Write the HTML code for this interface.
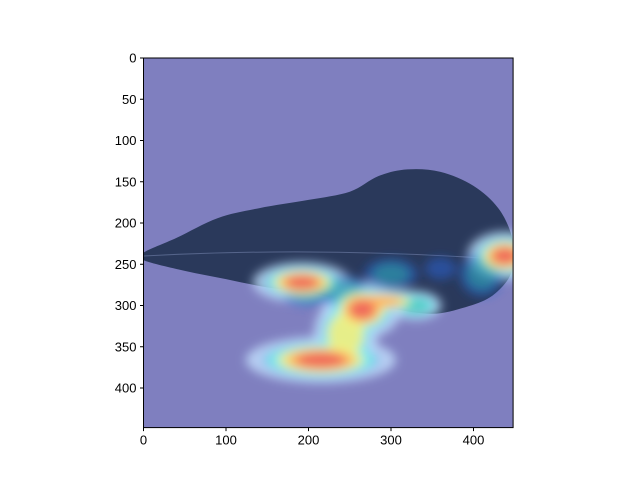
<!DOCTYPE html>
<html><head><meta charset="utf-8"><style>
body{margin:0;background:#fff;width:640px;height:480px;overflow:hidden}
svg text{font-family:"Liberation Sans","DejaVu Sans",sans-serif;font-size:13px;fill:#000}
</style></head><body>
<svg id="chart" width="640" height="480" viewBox="0 0 640 480" xmlns="http://www.w3.org/2000/svg">
<defs>
<filter id="blur" x="-50%" y="-50%" width="200%" height="200%"><feGaussianBlur stdDeviation="5"/></filter>
<clipPath id="clip"><rect x="143.5" y="58" width="369.6" height="369.6"/></clipPath>
</defs>
<rect x="143.5" y="58" width="369.6" height="369.6" fill="#7f7fbf"/>
<g id="img" clip-path="url(#clip)"></g>
<rect x="143.5" y="58" width="369.6" height="369.6" fill="none" stroke="#000" stroke-width="1"/>
<g id="axes"></g>
</svg>
<script>
const xTicks=[0,100,200,300,400];
const yTicks=[0,50,100,150,200,250,300,350,400];
const imgSize=448;
// leaf outline (data coords)
const leafX=[0,40,90,140,200,250,285,320,360,400,430,446,448,442,420,390,350,300,250,200,150,100,50,0];
const leafY=[236,218,194,182,172,162,143,135,138,155,182,215,245,268,290,302,310,304,296,284,278,268,258,245];
// heat blobs (data coords): center, radii, intensity 0..1
const blobX=[192,265,215,438,285,330,245,300,360,410,240,200];
const blobY=[272,305,366,240,295,300,335,262,255,262,282,285];
const blobRX=[34,27,52,26,38,18,22,24,14,20,24,24];
const blobRY=[14,20,16,17,9,10,26,14,10,20,14,12];
const blobV=[0.9,0.95,0.95,0.95,0.75,0.5,0.6,0.35,0.3,0.4,0.45,0.45];

const X0=143.5,Y0=58,S=369.6/imgSize;
const sx=v=>X0+v*S, sy=v=>Y0+v*S;
const NS="http://www.w3.org/2000/svg";
const img=document.getElementById('img'), axes=document.getElementById('axes');
function mk(t,a,p){const e=document.createElementNS(NS,t);for(const k in a)e.setAttribute(k,a[k]);(p||img).appendChild(e);return e;}

const P=leafX.map((x,i)=>[sx(x),sy(leafY[i])]);
let d='M'+P[0][0].toFixed(1)+' '+P[0][1].toFixed(1);
const n=P.length;
for(let i=0;i<n;i++){
  const p0=P[(i-1+n)%n],p1=P[i],p2=P[(i+1)%n],p3=P[(i+2)%n];
  const c1=[p1[0]+(p2[0]-p0[0])/6,p1[1]+(p2[1]-p0[1])/6];
  const c2=[p2[0]-(p3[0]-p1[0])/6,p2[1]-(p3[1]-p1[1])/6];
  d+='C'+c1.map(v=>v.toFixed(1)).join(' ')+' '+c2.map(v=>v.toFixed(1)).join(' ')+' '+p2.map(v=>v.toFixed(1)).join(' ');
}
const leaf=mk('path',{d:d+'Z',fill:'#2a395b'});


const vein=mk('path',{d:'M'+sx(0)+' '+sy(240)+' Q'+sx(220)+' '+sy(228)+' '+sx(448)+' '+sy(245),fill:'none',stroke:'#55648a','stroke-width':1});



const layers=[[1.75,'#c4e2ff',0.45,0.8],[1.35,'#2a60d0',0.0,0.55],[1.3,'#80f4f0',0.45,0.85],[0.95,'#30b0a0',0.3,0.5],[1.0,'#f6f282',0.5,0.9],[0.78,'#ffb060',0.65,0.95],[0.58,'#f06a5c',0.8,1]];
const g=mk('g',{filter:'url(#blur)'});


layers.forEach(([k,c,th,op])=>{
  blobX.forEach((bx,i)=>{
    if(blobV[i]<=th)return;
    const e=mk('ellipse',{cx:sx(bx),cy:sy(blobY[i]),rx:blobRX[i]*S*k,ry:blobRY[i]*S*k,fill:c,opacity:op},g);
    
    
  });
});

xTicks.forEach(v=>{
  const l=mk('line',{x1:sx(v),x2:sx(v),y1:Y0+369.6,y2:Y0+369.6+3.5,stroke:'#000'},axes);
  
  
  const t=mk('text',{x:sx(v),y:Y0+369.6+17,'text-anchor':'middle'},axes);t.textContent=v;
  
  
});
yTicks.forEach(v=>{
  const l=mk('line',{x1:X0-3.5,x2:X0,y1:sy(v),y2:sy(v),stroke:'#000'},axes);
  
  
  const t=mk('text',{x:X0-7,y:sy(v)+4.5,'text-anchor':'end'},axes);t.textContent=v;
  
  
});
</script>
</body></html>
